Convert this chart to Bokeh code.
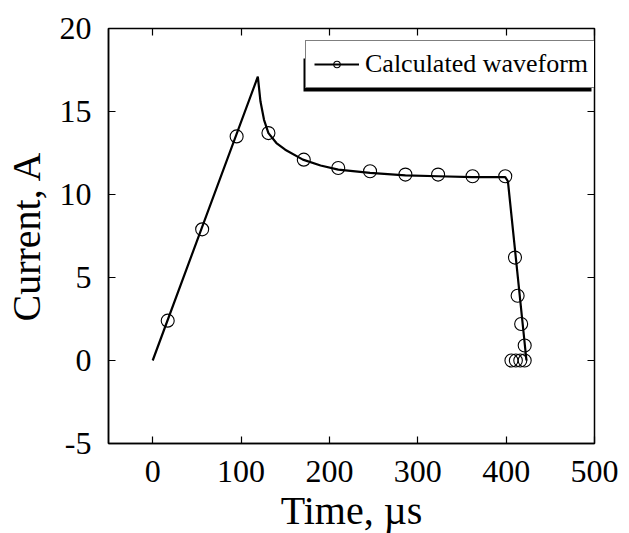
from bokeh.plotting import figure
from bokeh.models import Range1d, FixedTicker, LinearAxis, Legend, LegendItem, BoxAnnotation
from bokeh.embed import file_html
from bokeh.resources import INLINE

# Calculated waveform (continuous curve)
line_time = [0, 119, 122, 126, 131, 140, 150, 170, 190, 210, 246, 286, 323, 362, 399, 402, 423]
line_current = [0, 17.1, 15.6, 14.5, 13.7, 13.1, 12.7, 12.1, 11.75, 11.5, 11.3, 11.15, 11.1, 11.05, 11.05, 10.8, 0]

# Calculated waveform (marker points)
marker_time = [17, 56, 95, 131, 171, 210, 246, 286, 323, 362, 399, 410, 413, 417, 421, 406, 411, 416, 421]
marker_current = [2.4, 7.9, 13.5, 13.7, 12.1, 11.6, 11.4, 11.2, 11.2, 11.1, 11.1, 6.2, 3.9, 2.2, 0.9, 0, 0, 0, 0]

x_ticks = [0, 100, 200, 300, 400, 500]
x_tick_labels = ["0", "100", "200", "300", "400", "500"]
y_ticks = [-5, 0, 5, 10, 15, 20]
y_tick_labels = ["-5", "0", "5", "10", "15", "20"]

FONT = "Liberation Serif"

p = figure(
    frame_width=486, frame_height=415,
    x_range=Range1d(-50, 500), y_range=Range1d(-5, 20),
    output_backend="svg", toolbar_location=None,
    min_border_left=107, min_border_right=36, min_border_top=28, min_border_bottom=88,
    background_fill_color="white", border_fill_color="white",
)
p.grid.visible = False
p.outline_line_color = "black"
p.outline_line_width = 1.5

for ax in (p.xaxis[0], p.yaxis[0]):
    ax.major_label_text_font = FONT
    ax.major_label_text_font_size = "32px"
    ax.major_label_text_color = "black"
    ax.axis_label_text_font = FONT
    ax.axis_label_text_font_size = "40px"
    ax.axis_label_text_font_style = "normal"
    ax.axis_label_text_color = "black"
    ax.major_tick_in = 7
    ax.major_tick_out = 0
    ax.minor_tick_line_color = None
    ax.major_tick_line_color = "black"
    ax.major_tick_line_width = 1.2
    ax.axis_line_color = "black"
    ax.axis_line_width = 1.5

p.xaxis[0].ticker = FixedTicker(ticks=x_ticks)
p.yaxis[0].ticker = FixedTicker(ticks=y_ticks)
p.xaxis[0].major_label_overrides = dict(zip(x_ticks, x_tick_labels))
p.yaxis[0].major_label_overrides = dict(zip(y_ticks, y_tick_labels))
p.xaxis[0].axis_label = "Time, µs"
p.yaxis[0].axis_label = "Current, A"
p.xaxis[0].major_label_standoff = 17
p.yaxis[0].major_label_standoff = 17
p.xaxis[0].axis_label_standoff = 3
p.yaxis[0].axis_label_standoff = 8

# mirrored inward ticks on top and right (no labels)
for loc, tk in (("above", x_ticks), ("right", y_ticks)):
    ax = LinearAxis(ticker=FixedTicker(ticks=tk))
    ax.major_label_overrides = {t: "" for t in tk}
    ax.major_label_standoff = 0
    ax.major_tick_in = 7
    ax.major_tick_out = 0
    ax.minor_tick_line_color = None
    ax.major_tick_line_width = 1.2
    ax.axis_line_color = None
    p.add_layout(ax, loc)

r_line = p.line(line_time, line_current, line_color="black", line_width=2.2)
r_mark = p.scatter(marker_time, marker_current, marker="circle", size=13,
                   fill_color=None, line_color="black", line_width=1.1)

# legend placement (pixels from the frame's bottom-left) and its drop shadow
LEG_X, LEG_Y, LEG_W = 197, 355, 288
shadow = BoxAnnotation(left=LEG_X - 2, right=LEG_X + LEG_W - 2, bottom=LEG_Y - 3, top=LEG_Y + 30,
                       left_units="screen", right_units="screen",
                       top_units="screen", bottom_units="screen",
                       fill_color="black", fill_alpha=1, line_color=None, level="underlay")
p.add_layout(shadow)

legend = Legend(
    items=[LegendItem(label="Calculated waveform", renderers=[r_line, r_mark])],
    location=(LEG_X, LEG_Y),
    label_text_font=FONT, label_text_font_size="26px", label_text_color="black",
    glyph_width=45, glyph_height=16, label_standoff=6,
    padding=8, margin=0, spacing=0,
    border_line_color="black", border_line_width=1.5,
    background_fill_color="white", background_fill_alpha=1,
)
p.add_layout(legend, "center")

open("out.html", "w").write(file_html(p, INLINE))
